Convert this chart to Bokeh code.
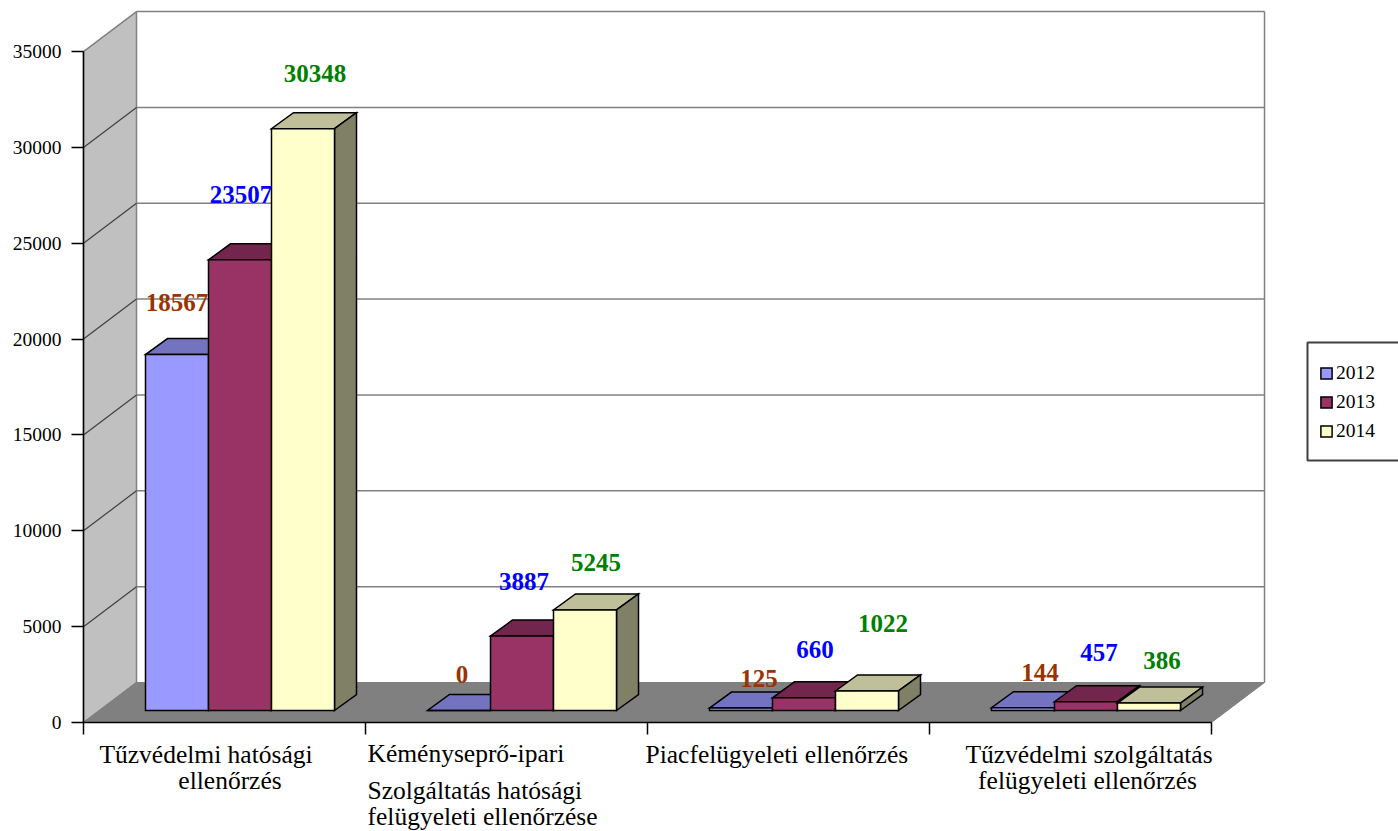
from bokeh.plotting import figure
from bokeh.models import ColumnDataSource, FixedTicker, Legend, LegendItem, Range1d
from bokeh.core.properties import value
from bokeh.embed import file_html
from bokeh.resources import INLINE

categories = ["Tűzvédelmi hatósági ellenőrzés", "Kéményseprő-ipari Szolgáltatás hatósági felügyeleti ellenőrzése",
              "Piacfelügyeleti ellenőrzés", "Tűzvédelmi szolgáltatás felügyeleti ellenőrzés"]
years = ["2012", "2013", "2014"]
s2012 = [18567, 0, 125, 144]
s2013 = [23507, 3887, 660, 457]
s2014 = [30348, 5245, 1022, 386]
y_ticks = [0, 5000, 10000, 15000, 20000, 25000, 30000, 35000]

front_colors = ["#9999FF", "#993366", "#FFFFCC"]
top_colors = ["#7373BF", "#73264D", "#BFBF99"]
side_colors = ["#4D4D80", "#4D1A33", "#808066"]
label_colors = ["#993300", "#0000FF", "#008000"]
# label pixel offsets from the front-top centre of each bar (dx, dy up)
label_dx = [[0, 3, 18, 17], [1, 2, 11, 13], [12, 11, 16, 13]]
label_dy = [[52, 36, 30, 35], [65, 54, 48, 49], [55, 47, 67, 43]]

# pixel geometry of the picture
X0, Y0 = 83, 722          # position of the data origin
CAT_W = 282               # px per category
PX_VAL = 0.01917          # px per value unit
FIG_W, FIG_H = 1398, 831
OX, OY = 0, 0

def X(px):
    return (px - X0) / CAT_W
def Y(py):
    return (Y0 - py) / PX_VAL

DEPTH_X, DEPTH_Y = 53 / CAT_W, 40 / PX_VAL            # wall depth
BAR_DX, BAR_DY = 22 / CAT_W, 16 / PX_VAL              # bar depth
BAR_START, BAR_W, BAR_BASE = 62 / CAT_W, 63 / CAT_W, 12 / PX_VAL

p = figure(width=FIG_W, height=FIG_H, output_backend="svg", toolbar_location=None, min_border=0,
           x_range=Range1d(X(OX), X(OX + FIG_W)), y_range=Range1d(Y(OY + FIG_H), Y(OY)))
p.outline_line_color = None
p.grid.visible = False
p.background_fill_color = "white"
p.border_fill_color = "white"

n = len(categories)
top_val = y_ticks[-1]
# side wall and floor
p.patch([0, DEPTH_X, DEPTH_X, 0], [0, DEPTH_Y, top_val + DEPTH_Y, top_val],
        fill_color="#C0C0C0", line_color="#808080", line_width=1.5)
p.patch([0, n, n + DEPTH_X, DEPTH_X], [0, 0, DEPTH_Y, DEPTH_Y],
        fill_color="#808080", line_color="#808080", line_width=1)
# grid on the back wall and side wall
for t in y_ticks[1:]:
    p.line([DEPTH_X, n + DEPTH_X], [t + DEPTH_Y, t + DEPTH_Y], line_color="#808080", line_width=1.5)
    if t < top_val:
        p.line([0, DEPTH_X], [t, t + DEPTH_Y], line_color="#404040", line_width=1.2)
p.line([n + DEPTH_X, n + DEPTH_X], [DEPTH_Y, top_val + DEPTH_Y], line_color="#808080", line_width=1.5)

series = [s2012, s2013, s2014]
front_renderers = []
for si, vals in enumerate(series):
    fx, fy, tx, ty, sx, sy = [], [], [], [], [], []
    for ci, v in enumerate(vals):
        x0 = ci + BAR_START + si * BAR_W
        x1 = x0 + BAR_W
        b, h = BAR_BASE, BAR_BASE + v
        fx.append([x0, x1, x1, x0]); fy.append([b, b, h, h])
        tx.append([x0, x1, x1 + BAR_DX, x0 + BAR_DX]); ty.append([h, h, h + BAR_DY, h + BAR_DY])
        sx.append([x1, x1 + BAR_DX, x1 + BAR_DX, x1]); sy.append([b, b + BAR_DY, h + BAR_DY, h])
    kw = dict(line_color="#000000", line_width=1.5, line_join="miter")
    p.patches(tx, ty, fill_color=top_colors[si], **kw)
    p.patches(sx, sy, fill_color=side_colors[si], **kw)
    front_renderers.append(p.patches(fx, fy, fill_color=front_colors[si], **kw))

# value labels
for si, vals in enumerate(series):
    xs = [ci + BAR_START + (si + 0.5) * BAR_W for ci in range(n)]
    ys = [BAR_BASE + v for v in vals]
    src = ColumnDataSource(dict(x=xs, y=ys, t=[str(v) for v in vals],
                                dx=label_dx[si], dy=[-d for d in label_dy[si]]))
    p.text("x", "y", text="t", source=src, x_offset="dx", y_offset="dy",
           text_font=value("Liberation Serif"), text_font_style="bold", text_font_size="25px",
           text_color=label_colors[si], text_align="center", text_baseline="middle")

# category labels (wrapped lines)
cat_lines = ["Tűzvédelmi hatósági", "ellenőrzés", "Kéményseprő-ipari", "Szolgáltatás hatósági",
             "felügyeleti ellenőrzése", "Piacfelügyeleti ellenőrzés", "Tűzvédelmi szolgáltatás",
             "felügyeleti ellenőrzés"]
cat_cx = [205.5, 229.5, 367, 367, 367, 645, 1088.5, 1087]
cat_cy = [754, 780, 753, 790, 816, 754, 754, 780]
cat_al = ["center", "center", "left", "left", "left", "left", "center", "center"]
p.text(x=[X(v) for v in cat_cx], y=[Y(v) for v in cat_cy], text=cat_lines, text_align=cat_al,
       text_baseline="middle", text_font=value("Liberation Serif"), text_font_size="25.5px", text_color="#000000")

# axes
xa = p.xaxis[0]
xa.fixed_location = 0
xa.bounds = (0, n)
xa.ticker = FixedTicker(ticks=list(range(n + 1)))
xa.major_label_overrides = {i: "" for i in range(n + 1)}
xa.major_tick_in = 0; xa.major_tick_out = 12; xa.minor_tick_line_color = None
xa.axis_line_color = "#000000"; xa.axis_line_width = 1.5
xa.major_tick_line_color = "#000000"; xa.major_tick_line_width = 1.5

ya = p.yaxis[0]
ya.fixed_location = 0
ya.bounds = (0, top_val)
ya.ticker = FixedTicker(ticks=y_ticks)
ya.major_tick_in = 0; ya.major_tick_out = 12; ya.minor_tick_line_color = None
ya.axis_line_color = "#000000"; ya.axis_line_width = 1.5
ya.major_tick_line_color = "#000000"; ya.major_tick_line_width = 1.5
ya.major_label_text_font = "Liberation Serif"
ya.major_label_text_font_size = "19.5px"
ya.major_label_text_color = "#000000"
ya.major_label_standoff = 10

# legend box and legend
p.patch([X(1307), X(1398 + 10), X(1398 + 10), X(1307)], [Y(342), Y(342), Y(460), Y(460)],
        fill_color="white", line_color="#404040", line_width=2)
legend = Legend(items=[LegendItem(label=y, renderers=[r]) for y, r in zip(years, front_renderers)],
                location=(1319 - OX, OY + FIG_H - 442), padding=0, margin=0, spacing=7,
                glyph_width=14, glyph_height=14, label_standoff=3,
                label_text_font="Liberation Serif", label_text_font_size="19.5px", label_text_color="#000000",
                background_fill_alpha=0, border_line_color=None, label_height=14)
p.add_layout(legend, "center")

open("out.html", "w").write(file_html(p, INLINE))
